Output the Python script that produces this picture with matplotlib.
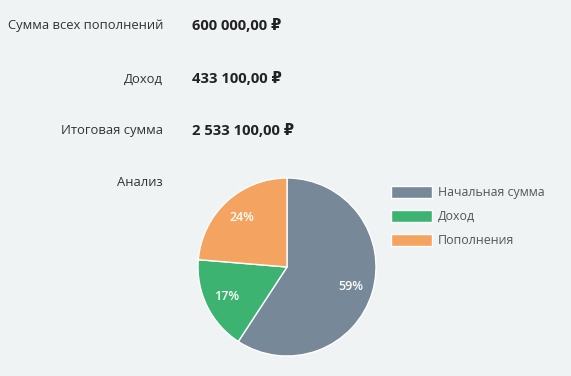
import matplotlib
matplotlib.use("Agg")
import matplotlib.pyplot as plt

# summary rows
row_labels = ["Сумма всех пополнений", "Доход", "Итоговая сумма"]
row_values = ["600 000,00 ₽", "433 100,00 ₽", "2 533 100,00 ₽"]

# pie data
parts = ["Начальная сумма", "Доход", "Пополнения"]
amounts = [1500000, 433100, 600000]
colors = ["#778899", "#3cb371", "#f4a460"]

bg = "#eff3f3"
plt.rcParams['font.family'] = ['Open Sans', 'DejaVu Sans']

W, H = 571, 376
fig = plt.figure(figsize=(W / 100, H / 100), dpi=100, facecolor=bg)

# left column labels / bold values
row_y = [26, 79, 131]
for lab, val, y in zip(row_labels, row_values, row_y):
    fig.text(163 / W, 1 - y / H, lab, ha="right", va="center",
             fontsize=9.4, color="#333333")
    fig.text(192 / W, 1 - y / H, val, ha="left", va="center",
             fontsize=10.6, fontweight="bold", color="#222222")

fig.text(163 / W, 1 - 182 / H, "Анализ", ha="right", va="center",
         fontsize=9.4, color="#333333")

# pie
cx, cy, r = 287, 267, 89
ax = fig.add_axes([(cx - r) / W, 1 - (cy + r) / H, 2 * r / W, 2 * r / H])
ax.set_facecolor(bg)
wedges, texts, autotexts = ax.pie(
    amounts, colors=colors, startangle=90, counterclock=False,
    autopct=lambda p: "%d%%" % round(p), pctdistance=0.75,
    wedgeprops=dict(edgecolor="white", linewidth=1),
    textprops=dict(color="white", fontsize=9, fontweight="semibold"))
ax.set_xlim(-1, 1)
ax.set_ylim(-1, 1)
ax.set_aspect("equal")
ax.axis("off")

fig.legend(wedges, parts, loc="upper left",
           bbox_to_anchor=(391 / W, 1 - 186 / H), frameon=False,
           fontsize=8.9, handlelength=3.3, handleheight=1.15,
           labelspacing=0.85, handletextpad=0.5, borderpad=0,
           borderaxespad=0, labelcolor="#555555")

fig.savefig("out.png", dpi=100, facecolor=bg)
